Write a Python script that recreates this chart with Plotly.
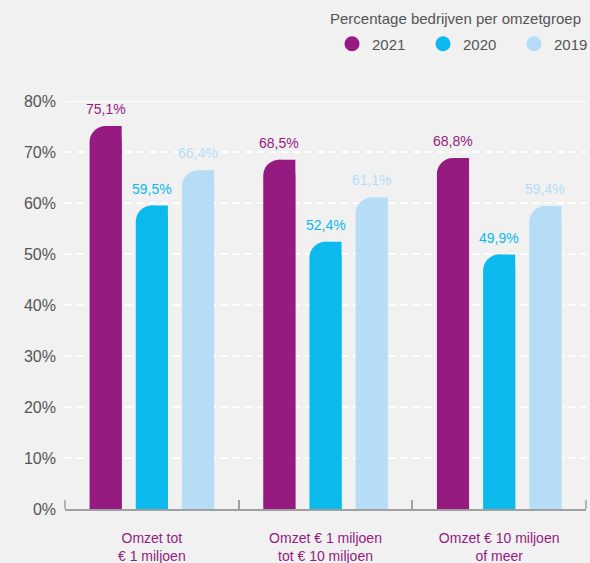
import plotly.graph_objects as go

categories = ["Omzet tot<br>€ 1 miljoen", "Omzet € 1 miljoen<br>tot € 10 miljoen", "Omzet € 10 miljoen<br>of meer"]
years = ["2021", "2020", "2019"]
values_2021 = [75.1, 68.5, 68.8]
values_2020 = [59.5, 52.4, 49.9]
values_2019 = [66.4, 61.1, 59.4]
y_ticks = [0, 10, 20, 30, 40, 50, 60, 70, 80]
y_ticklabels = [f"{v}%" for v in y_ticks]
title_text = "Percentage bedrijven per omzetgroep"

series = [values_2021, values_2020, values_2019]
colors = ["#951b81", "#0cb9ec", "#b5ddf6"]
centers = [-0.266, 0.0, 0.266]
bw = 0.185

BG = "#f1f1f1"
GRAY = "#555555"
AXIS = "#a0a0a0"
REG = "Liberation Sans, Arial, Helvetica"

fig = go.Figure()
for yr, vals, col, c in zip(years, series, colors, centers):
    # full-width bar with rounded top
    fig.add_trace(go.Bar(
        x=categories, y=vals, offset=c - bw / 2, width=bw,
        marker=dict(color=col, cornerradius="50%", line=dict(width=0)),
        showlegend=False, hoverinfo="skip",
    ))
    # right half square to keep only the top-left corner rounded
    fig.add_trace(go.Bar(
        x=categories, y=vals, offset=c - 0.004, width=bw / 2 + 0.004,
        marker=dict(color=col, line=dict(width=0)),
        showlegend=False, name=yr,
    ))
    # legend entry (circle)
    fig.add_trace(go.Scatter(
        x=[None], y=[None], mode="markers", name=yr,
        marker=dict(symbol="circle", size=15, color=col),
    ))
    for i, v in enumerate(vals):
        fig.add_annotation(
            x=i + c, y=v, xref="x", yref="y",
            text=f"{v:.1f}".replace(".", ",") + "%",
            showarrow=False, yanchor="bottom", yshift=7,
            font=dict(family=REG, size=14, color=col),
        )

# solid top gridline
fig.add_shape(type="line", xref="paper", yref="y", x0=0, x1=1, y0=80, y1=80,
              line=dict(color="white", width=2), layer="below")
# end ticks of the category axis
for xe in (0, 1):
    fig.add_shape(type="line", xref="paper", yref="paper", x0=xe, x1=xe,
                  y0=0, y1=9 / 408, line=dict(color=AXIS, width=1.5), layer="above")

fig.update_layout(
    width=590, height=563,
    margin=dict(l=65, r=4, t=101, b=54),
    paper_bgcolor=BG, plot_bgcolor=BG,
    barmode="overlay",
    title=dict(text=title_text, x=581 / 590, xanchor="right", xref="container",
               y=1 - 19 / 563, yanchor="middle", yref="container",
               font=dict(family=REG, size=15, color=GRAY)),
    legend=dict(orientation="h", xref="container", yref="container",
                x=332 / 590, xanchor="left", y=1 - 44 / 563, yanchor="middle",
                font=dict(family=REG, size=15, color=GRAY),
                bgcolor="rgba(0,0,0,0)", entrywidth=46, traceorder="normal"),
    xaxis=dict(type="category", range=[-0.5, 2.5], tickson="boundaries",
               ticks="inside", ticklen=9, tickwidth=1.5, tickcolor=AXIS,
               showline=True, linecolor=AXIS, linewidth=1.5,
               showgrid=False, zeroline=False, automargin=False,
               tickfont=dict(family=REG, size=14, color="#951b81"),
               ticklabelstandoff=15),
    yaxis=dict(range=[0, 80], tickmode="array", tickvals=y_ticks, ticktext=y_ticklabels,
               showgrid=True, gridcolor="white", gridwidth=2, griddash="7px,5px",
               zeroline=False, showline=False, ticks="", automargin=False,
               tickfont=dict(family=REG, size=16, color=GRAY),
               ticklabelstandoff=8),
    showlegend=True,
)

fig.write_html("out.html", config={"displayModeBar": False},
               post_script="document.body.style.margin='0';document.body.style.overflow='hidden';")
